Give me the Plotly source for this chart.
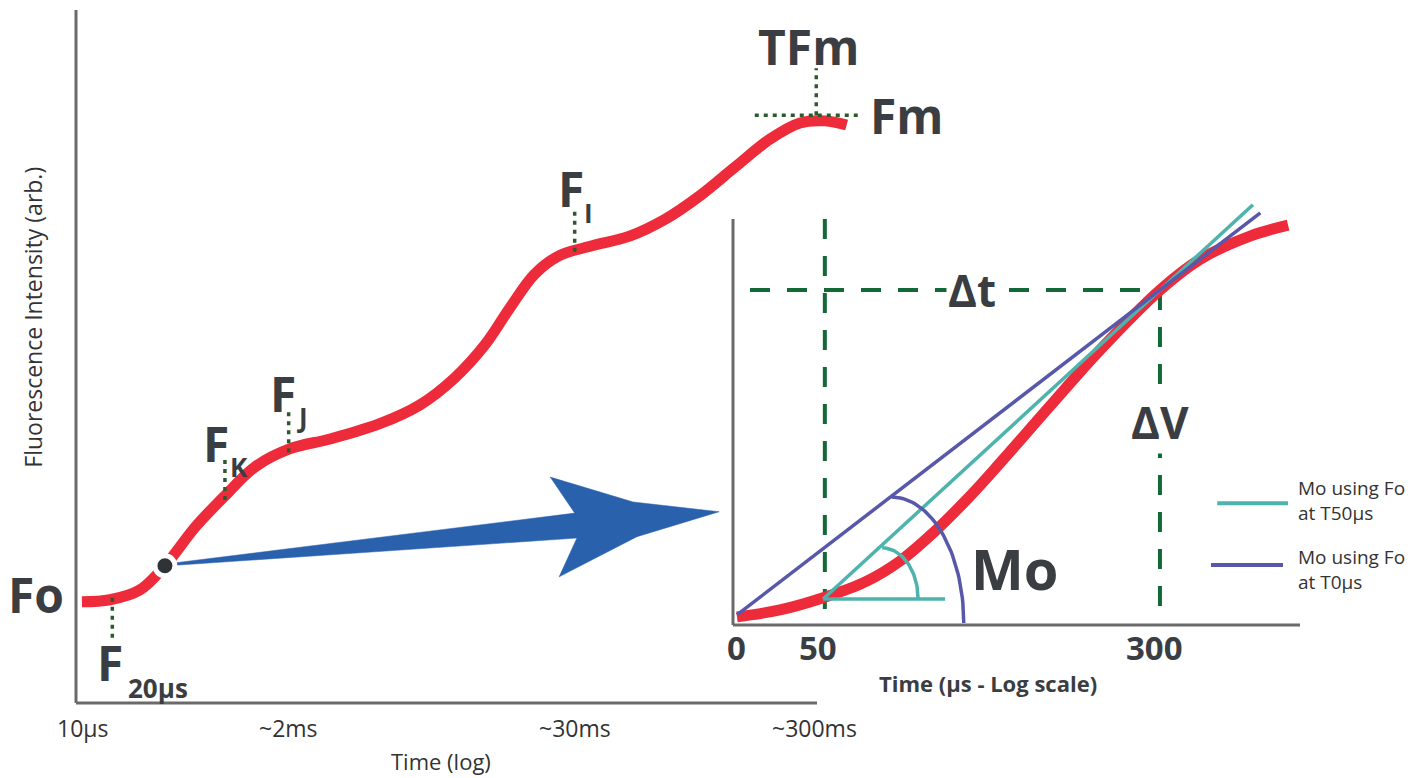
import numpy as np
import plotly.graph_objects as go

# ---------------- DATA (main chart: x = log-time position, y = intensity) -------------
main_t = [0.8, 4.6, 8.6, 12.0, 16.1, 20.1, 24.2, 28.9, 34.3, 41.0, 46.4, 51.1, 55.2, 58.6,
          61.9, 65.3, 69.4, 74.8, 79.5, 84.2, 88.9, 93.7, 97.7, 101.1, 104.0]
main_f = [14.6, 14.9, 16.3, 19.8, 25.4, 29.9, 34.1, 36.7, 38.1, 40.3, 43.0, 46.9, 51.7, 57.1,
          61.9, 64.6, 65.9, 67.4, 69.8, 73.2, 77.3, 81.4, 83.7, 84.0, 83.4]
x_tick_pos = [0.9, 28.7, 67.3, 99.7]
x_tick_text = ["10µs", "~2ms", "~30ms", "~300ms"]
dot_point = (12.0, 19.8)

# dotted guides: (x, y_low, y_high)
f20_guide = (4.9, 9.4, 15.2)
fk_guide = (20.1, 29.3, 35.1)
fj_guide = (28.7, 36.2, 42.0)
fi_guide = (67.3, 65.1, 70.9)
tfm_guide = (99.9, 84.8, 91.6)
fm_guide = (91.6, 106.1, 84.8)  # x0, x1, y

# zoom arrow outline (main units)
arrow_x = [12.4, 67.3, 64.0, 75.2, 86.8, 75.7, 65.2, 67.6, 12.4]
arrow_y = [20.1, 27.4, 32.6, 29.0, 27.6, 24.0, 18.2, 23.8, 19.8]

# ---------------- DATA (inset: x = time µs log scale position, y = intensity) ----------
ins_t = [0.7, 8.3, 15.9, 23.6, 29.5, 35.3, 41.3, 47.1, 55.9, 64.7, 75.3, 82.4, 91.2, 97.9]
ins_f = [2.0, 3.7, 6.7, 10.8, 15.8, 22.7, 31.0, 39.9, 53.9, 67.7, 82.5, 90.1, 95.8, 98.5]
ins_tick_pos = [0.7, 15.0, 74.4]
ins_tick_text = ["0", "50", "300"]
teal_line_x = [15.9, 91.7]
teal_line_y = [6.4, 103.5]
teal_base_x = [15.9, 37.4]
purple_line_x = [0.7, 93.0]
purple_line_y = [2.5, 101.5]
t50_x = 16.2
t300_x = 75.3
dt_level = 82.5

RED = "#ee2b3b"
TEAL = "#4db3ac"
PURPLE = "#5858aa"
GREEN = "#136838"
DOTGREEN = "#2d5a2b"
AXIS = "#6a6a6a"
DARK = "#3a3d41"
TXT = "#333333"
BLUE = "#2a61ad"

# pixel scale of the two coordinate systems (layout only)
W, H = 1421, 778
mx0, mxs = 76, 7.41
my0, mys = 703, 6.93
ix0, ixs = 733, 5.67
iy0, iys = 625, 4.06

fig = go.Figure()

def m(x, y, **kw):
    fig.add_trace(go.Scatter(x=x, y=y, mode="lines", hoverinfo="skip", showlegend=False, **kw))

def i(x, y, **kw):
    fig.add_trace(go.Scatter(x=x, y=y, mode="lines", xaxis="x2", yaxis="y2",
                             hoverinfo="skip", showlegend=False, **kw))

# main axes lines
m([0, 0], [100, 0], line=dict(color=AXIS, width=3))
m([0, 100], [0, 0], line=dict(color=AXIS, width=3))

# arrow
fig.add_trace(go.Scatter(x=arrow_x, y=arrow_y, mode="lines", fill="toself", fillcolor=BLUE,
                         line=dict(color=BLUE, width=0.5), hoverinfo="skip", showlegend=False))

# main curve
m(main_t, main_f, line=dict(color=RED, width=11, shape="spline", smoothing=1.0))

# dotted guides
dot = dict(color=DOTGREEN, width=3.5, dash="4px,5px")
for gx, g0, g1 in [f20_guide, fk_guide, fj_guide, fi_guide, tfm_guide]:
    m([gx, gx], [g0, g1], line=dot)
m([fm_guide[0], fm_guide[1]], [fm_guide[2], fm_guide[2]], line=dot)

# dot at zoom origin
fig.add_trace(go.Scatter(x=[dot_point[0]], y=[dot_point[1]], mode="markers",
                         marker=dict(size=20, color="#2f3336", line=dict(color="white", width=5)),
                         hoverinfo="skip", showlegend=False))

# ---------------- inset ----------------
i([0, 0], [100, 0], line=dict(color=AXIS, width=3))
i([0, 100], [0, 0], line=dict(color=AXIS, width=3))

gd = dict(color=GREEN, width=4, dash="20px,17px")
i([t50_x, t50_x], [100, 2.0], line=gd)
i([3.0, t300_x], [dt_level, dt_level], line=gd)
i([t300_x, t300_x], [dt_level, 2.0], line=gd)

i(ins_t, ins_f, line=dict(color=RED, width=11, shape="spline", smoothing=1.0))

i(teal_line_x, teal_line_y, line=dict(color=TEAL, width=3.5))
i(teal_base_x, [teal_line_y[0]] * 2, line=dict(color=TEAL, width=3.5))
i(purple_line_x, purple_line_y, line=dict(color=PURPLE, width=3.5))

# angle arcs
th = np.linspace(0, np.pi / 2, 40)
i(26.3 + 6.35 * np.cos(th), 6.4 + 12.6 * np.sin(th), line=dict(color=TEAL, width=3.5))
i(28.0 + 12.7 * np.cos(th), 0.5 + 31.0 * np.sin(th), line=dict(color=PURPLE, width=3.5))

# legend lines
i([85.4, 97.9], [30.0, 30.0], line=dict(color=TEAL, width=4))
i([84.3, 97.0], [14.8, 14.8], line=dict(color=PURPLE, width=4))

ann = []

def A(x, y, text, size, color=DARK, ref="", bold=True, **kw):
    d = dict(x=x, y=y, xref="x" + ref, yref="y" + ref, text=("<b>%s</b>" % text) if bold else text,
             showarrow=False, xanchor="center", yanchor="middle",
             font=dict(family="Open Sans", size=size, color=color))
    d.update(kw)
    ann.append(d)

# main labels
A(-5.4, 15.7, "Fo", 48)
A(4.6, 5.9, "F", 48)
A(11.1, 2.2, "20µs", 26)
A(18.9, 37.5, "F", 48)
A(22.0, 34.1, "K", 26)
A(27.9, 44.6, "F", 48)
A(30.5, 41.3, "J", 26)
A(66.8, 74.2, "F", 48)
A(69.1, 70.7, "I", 26)
A(98.9, 94.7, "TFm", 48)
A(112.1, 84.8, "Fm", 48)
for p, t in zip(x_tick_pos, x_tick_text):
    A(p, -3.6, t, 23, color=TXT, bold=False)
A(49.2, -8.4, "Time (log)", 22, color=TXT, bold=False, borderpad=0)
A(-5.8, 55.6, "Fluorescence Intensity (arb.)", 23, color=TXT, bold=False, textangle=-90)

# inset labels
A(42.2, 82.5, "Δt", 44, ref="2", bgcolor="white", borderpad=1)
A(75.3, 50.0, "ΔV", 44, ref="2", bgcolor="white", borderpad=1)
A(49.7, 14.0, "Mo", 56, ref="2")
for p, t in zip(ins_tick_pos, ins_tick_text):
    A(p, -5.6, t, 33, ref="2")
A(45.0, -14.3, "Time (µs - Log scale)", 22, ref="2")
A(99.3, 30.7, "Mo using Fo<br>at T50µs", 19, color=TXT, ref="2", bold=False, xanchor="left", align="left")
A(99.3, 13.6, "Mo using Fo<br>at T0µs", 19, color=TXT, ref="2", bold=False, xanchor="left", align="left")

fig.update_layout(
    width=W, height=H, margin=dict(l=0, r=0, t=0, b=0),
    paper_bgcolor="white", plot_bgcolor="white",
    xaxis=dict(domain=[0, 1], range=[-mx0 / mxs, (W - mx0) / mxs], visible=False, fixedrange=True),
    yaxis=dict(domain=[0, 1], range=[(my0 - H) / mys, my0 / mys], visible=False, fixedrange=True),
    xaxis2=dict(domain=[0, 1], overlaying="x", anchor="y2", range=[-ix0 / ixs, (W - ix0) / ixs],
                visible=False, fixedrange=True),
    yaxis2=dict(domain=[0, 1], overlaying="y", anchor="x2", range=[(iy0 - H) / iys, iy0 / iys],
                visible=False, fixedrange=True),
    annotations=ann,
    showlegend=False,
)

fig.write_html("out.html", config={"displayModeBar": False},
               post_script="document.body.style.margin='0px';")
